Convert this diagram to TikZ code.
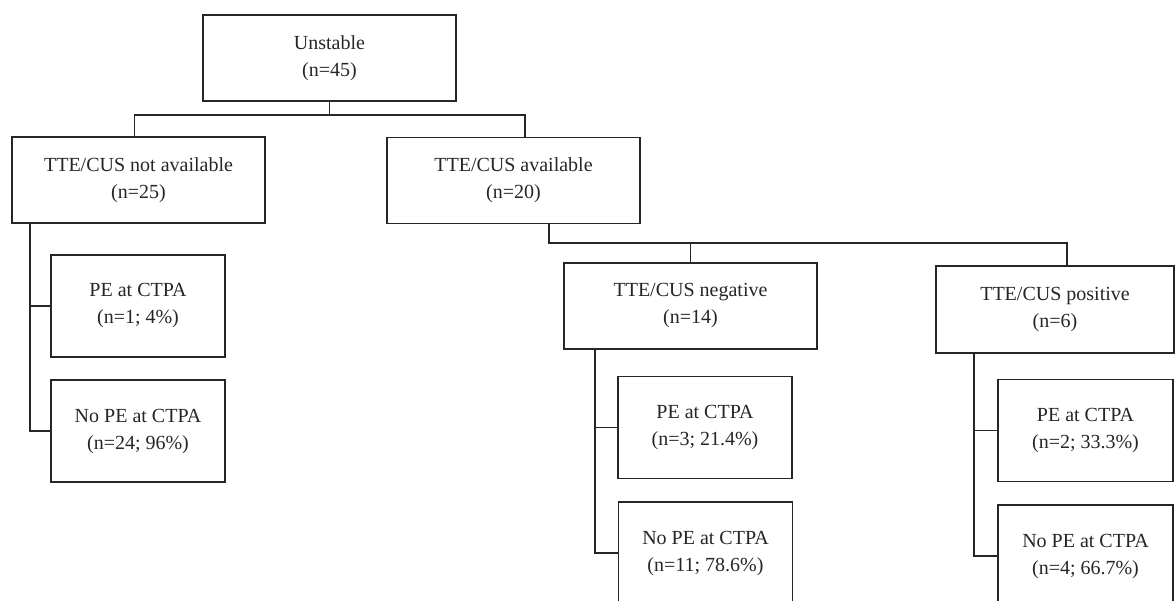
\documentclass[tikz,border=0pt]{standalone}
\usepackage{xcolor}
\usepackage{fontspec}
\setmainfont{Liberation Serif}
\usepackage{tikz}
\usetikzlibrary{positioning, calc}
\definecolor{inkgray}{HTML}{262626}

\tikzset{
  flowbox/.style={draw=inkgray, line width=1.6pt, align=center, inner sep=0pt,
                  text=inkgray, font=\fontsize{20}{27}\selectfont,
                  execute at begin node={\rule{0pt}{20pt}}},
  wide/.style={flowbox, minimum width=253pt, minimum height=86pt},
  leaf/.style={flowbox, minimum width=174pt, minimum height=102pt},
  link/.style={draw=inkgray, line width=1.6pt}
}

\begin{document}
\begin{tikzpicture}[x=1pt, y=-1pt]
    \useasboundingbox (0,0) rectangle (1175,600);
    \clip (0,0) rectangle (1175,600);
    \fill[white] (0,0) rectangle (1175,600);

    % top levels
    \node[wide] (unstable) at (329.5,58) {Unstable\\(n=45)};
    \node[wide] (notavail) at (138.5,180) {TTE/CUS not available\\(n=25)};
    \node[wide] (avail) at (513.5,180.5) {TTE/CUS available\\(n=20)};
    \node[wide] (negative) at (690.5,306) {TTE/CUS negative\\(n=14)};
    \node[wide, minimum width=238pt, minimum height=87pt] (positive) at (1055,309.5) {TTE/CUS positive\\(n=6)};

    % CTPA results
    \node[leaf] (pe1) at (138,306) {PE at CTPA\\(n=1; 4\%)};
    \node[leaf] (nope1) at (138,431) {No PE at CTPA\\(n=24; 96\%)};
    \node[leaf] (pe2) at (705,427.5) {PE at CTPA\\(n=3; 21.4\%)};
    \node[leaf] (nope2) at (705.5,553) {No PE at CTPA\\(n=11; 78.6\%)};
    \node[leaf, minimum width=175pt] (pe3) at (1085.5,430.5) {PE at CTPA\\(n=2; 33.3\%)};
    \node[leaf, minimum width=175pt] (nope3) at (1085.5,556) {No PE at CTPA\\(n=4; 66.7\%)};

    \coordinate (bar1) at (0,115);
    \coordinate (bar2) at (0,243);
    \coordinate (t1) at (30,0);
    \coordinate (t2) at (595,0);
    \coordinate (t3) at (974,0);

    % connectors
    \draw[link] (unstable.south) -- (unstable.south |- bar1);
    \draw[link] ([xshift=-4pt]notavail.north) |- ([xshift=11.5pt]avail.north |- bar1)
      -- ([xshift=11.5pt]avail.north);
    \draw[link] ([xshift=35.5pt]avail.south) |- ([xshift=12pt]positive.north |- bar2)
      -- ([xshift=12pt]positive.north);
    \draw[link] (negative.north) -- (negative.north |- bar2);

    \draw[link] (notavail.south -| t1) |- (nope1.west);
    \draw[link] (t1 |- pe1.west) -- (pe1.west);
    \draw[link] (negative.south -| t2) |- (nope2.west);
    \draw[link] (t2 |- pe2.west) -- (pe2.west);
    \draw[link] (positive.south -| t3) |- (nope3.west);
    \draw[link] (t3 |- pe3.west) -- (pe3.west);
\end{tikzpicture}
\end{document}
